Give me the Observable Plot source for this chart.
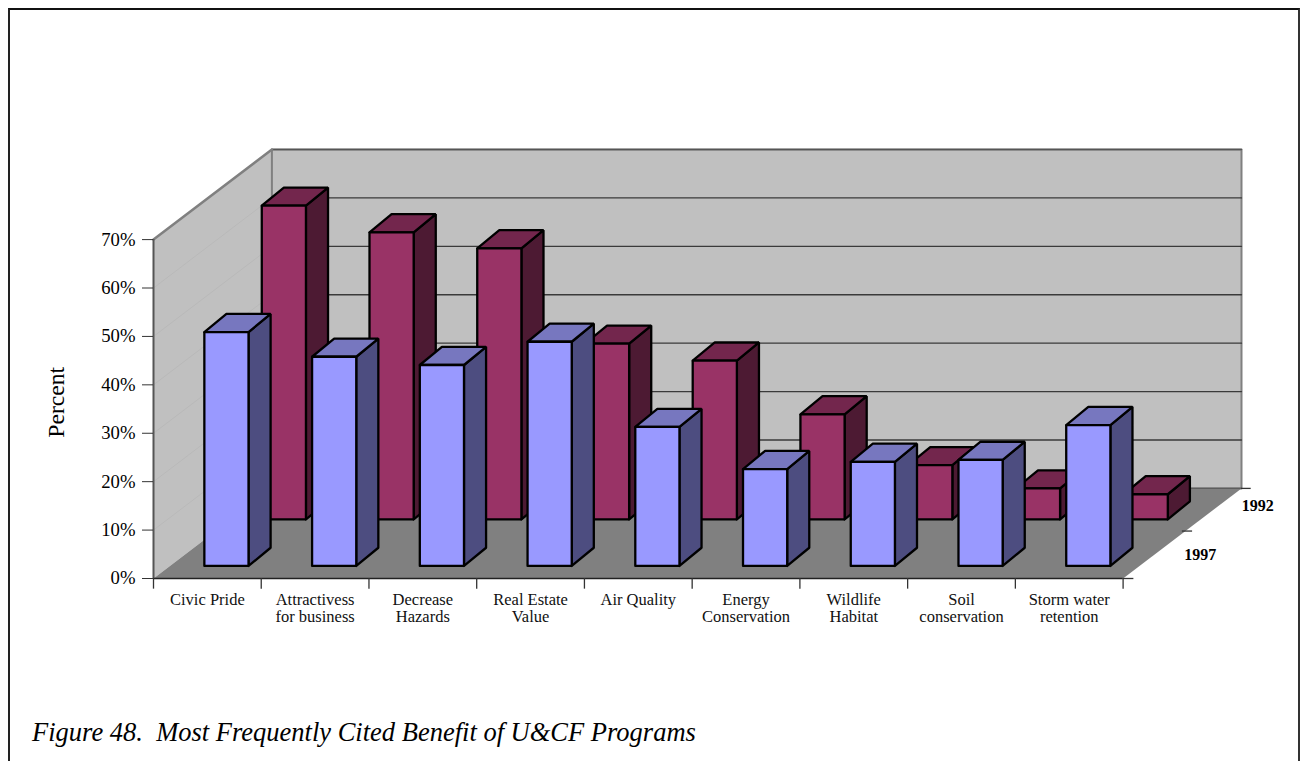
<!DOCTYPE html>
<html>
<head>
<meta charset="utf-8">
<script src="https://cdn.jsdelivr.net/npm/d3@7"></script>
<script src="https://cdn.jsdelivr.net/npm/@observablehq/plot@0.6"></script>
<style>
html,body{margin:0;padding:0;background:#fff;width:1300px;height:761px;overflow:hidden}
#frame{position:absolute;left:8px;top:8px;width:1288px;height:753px;border-left:2px solid #222;border-top:2px solid #111;border-right:2px solid #333;box-sizing:content-box;border-bottom:0}
#chart{position:absolute;left:0;top:0}
#chart svg{background:transparent}
#caption{position:absolute;left:32px;top:717px;font:italic 26.5px "Liberation Serif",serif;white-space:pre;color:#000}
</style>
</head>
<body>
<div id="frame"></div>
<div id="chart"></div>
<div id="caption">Figure 48.  Most Frequently Cited Benefit of U&amp;CF Programs</div>
<script>
const categories = ["Civic Pride","Attractivess\nfor business","Decrease\nHazards","Real Estate\nValue","Air Quality","Energy\nConservation","Wildlife\nHabitat","Soil\nconservation","Storm water\nretention"];
const values1997 = [48.3,43.2,41.5,46.3,28.7,20.0,21.5,21.9,29.1];
const values1992 = [64.8,59.3,56.0,36.3,32.8,21.7,11.2,6.4,5.2];
const yTicks = [0,10,20,30,40,50,60,70];
const gridValues = [10,20,30,40,50,60];
const years = ["1992","1997"];

// Oblique 3-D projection, expressed in scale units
const backX = 1.099, backY = 18.61;      // floor depth
const barW = 0.41, barDX = 0.205, barDY = 3.75; // bar width and depth
const colors = {
  wall:"#c0c0c0", floor:"#808080",
  blue:{front:"#9999ff", side:"#4d4d80", top:"#7777bf"},
  red:{front:"#993366", side:"#4d1a33", top:"#73264d"}
};

const faces = [];
function addFace(id, fill, pts){
  pts.concat([pts[0]]).forEach(([x,y]) => faces.push({id, fill, x, y}));
}
function addBar(key, i, v, offX, offY, pal){
  const x0 = i + offX, x1 = x0 + barW, y0 = offY, y1 = offY + v;
  addFace(key+i+"s", pal.side, [[x1,y0],[x1+barDX,y0+barDY],[x1+barDX,y1+barDY],[x1,y1]]);
  addFace(key+i+"t", pal.top, [[x0,y1],[x1,y1],[x1+barDX,y1+barDY],[x0+barDX,y1+barDY]]);
  addFace(key+i+"f", pal.front, [[x0,y0],[x1,y0],[x1,y1],[x0,y1]]);
}
values1992.forEach((v,i) => addBar("r", i, v, 1.005, 12.2, colors.red));
values1997.forEach((v,i) => addBar("b", i, v, 0.472, 2.6, colors.blue));

const n = categories.length;
const leftWall = [[0,0],[0,70],[backX,70+backY],[backX,backY],[0,0]].map(([x,y]) => ({x,y}));
const backWall = [[backX,backY],[backX,70+backY],[n+backX,70+backY],[n+backX,backY],[backX,backY]].map(([x,y]) => ({x,y}));
const floor = [[0,0],[n,0],[n+backX,backY],[backX,backY],[0,0]].map(([x,y]) => ({x,y}));
const backGrid = gridValues.concat([0]).flatMap(v => [{v,x:backX,y:v+backY},{v,x:n+backX,y:v+backY}]);
const sideGrid = gridValues.flatMap(v => [{v,x:0,y:v},{v,x:backX,y:v+backY}]);
const topEdge = [{x:backX,y:70+backY},{x:n+backX,y:70+backY}];
const boundaries = d3.range(n+1);
const depthTicks = [
  {x1:n,x2:n+0.1,y:0},
  {x1:n+0.55,x2:n+0.645,y:9.8},
  {x1:n+backX,x2:n+backX+0.09,y:backY}
];
const yearLabels = [{t:years[0],x:10.25,y:14.9},{t:years[1],x:9.715,y:4.95}];

const plot = Plot.plot({
  width:1300, height:680,
  marginLeft:153, marginRight:59, marginTop:149, marginBottom:102,
  x:{domain:[0,n+backX], axis:null},
  y:{domain:[0,70+backY], axis:null},
  color:{type:"identity"},
  style:{fontFamily:"'Liberation Serif',serif", background:"transparent", color:"#000"},
  marks:[
    Plot.line(leftWall,{x:"x",y:"y",fill:colors.wall,stroke:"none"}),
    Plot.line(backWall,{x:"x",y:"y",fill:colors.wall,stroke:"#808080",strokeWidth:2}),
    Plot.line(sideGrid,{x:"x",y:"y",z:"v",stroke:"#b9b9b9",strokeWidth:1}),
    Plot.line(backGrid,{x:"x",y:"y",z:"v",stroke:"#3a3a3a",strokeWidth:1.3}),
    Plot.line(topEdge,{x:"x",y:"y",stroke:"#555",strokeWidth:1.5}),
    Plot.line([{x:0,y:70},{x:backX,y:70+backY}],{x:"x",y:"y",stroke:"#808080",strokeWidth:2.5}),
    Plot.line(floor,{x:"x",y:"y",fill:colors.floor,stroke:"none"}),
    Plot.line(faces,{x:"x",y:"y",z:"id",fill:"fill",stroke:"#000",strokeWidth:2.3,strokeLinejoin:"miter"}),
    Plot.ruleX([0],{y1:0,y2:70,stroke:"#555",strokeWidth:2}),
    Plot.ruleY([0],{x1:0,x2:n,stroke:"#222",strokeWidth:1.7}),
    Plot.axisY({ticks:yTicks,tickFormat:d=>d+"%",tickSize:11,tickPadding:7,fontSize:18.7,label:null,stroke:"#333"}),
    Plot.ruleX(boundaries,{y1:0,y2:-2.2,stroke:"#333",strokeWidth:1.3}),
    Plot.ruleY(depthTicks,{y:"y",x1:"x1",x2:"x2",stroke:"#333",strokeWidth:1.3}),
    Plot.text(categories,{x:(d,i)=>i+0.5,y:-2.9,text:d=>d,lineAnchor:"top",fontSize:16.5,lineHeight:1.03,fill:"#111"}),
    Plot.text(yearLabels,{x:"x",y:"y",text:"t",fontSize:16,fontWeight:"bold",fill:"#000"}),
    Plot.text(["Percent"],{x:-0.9,y:36.4,rotate:-90,fontSize:23.6,fill:"#000"})
  ]
});
document.getElementById("chart").appendChild(plot);
</script>
</body>
</html>
